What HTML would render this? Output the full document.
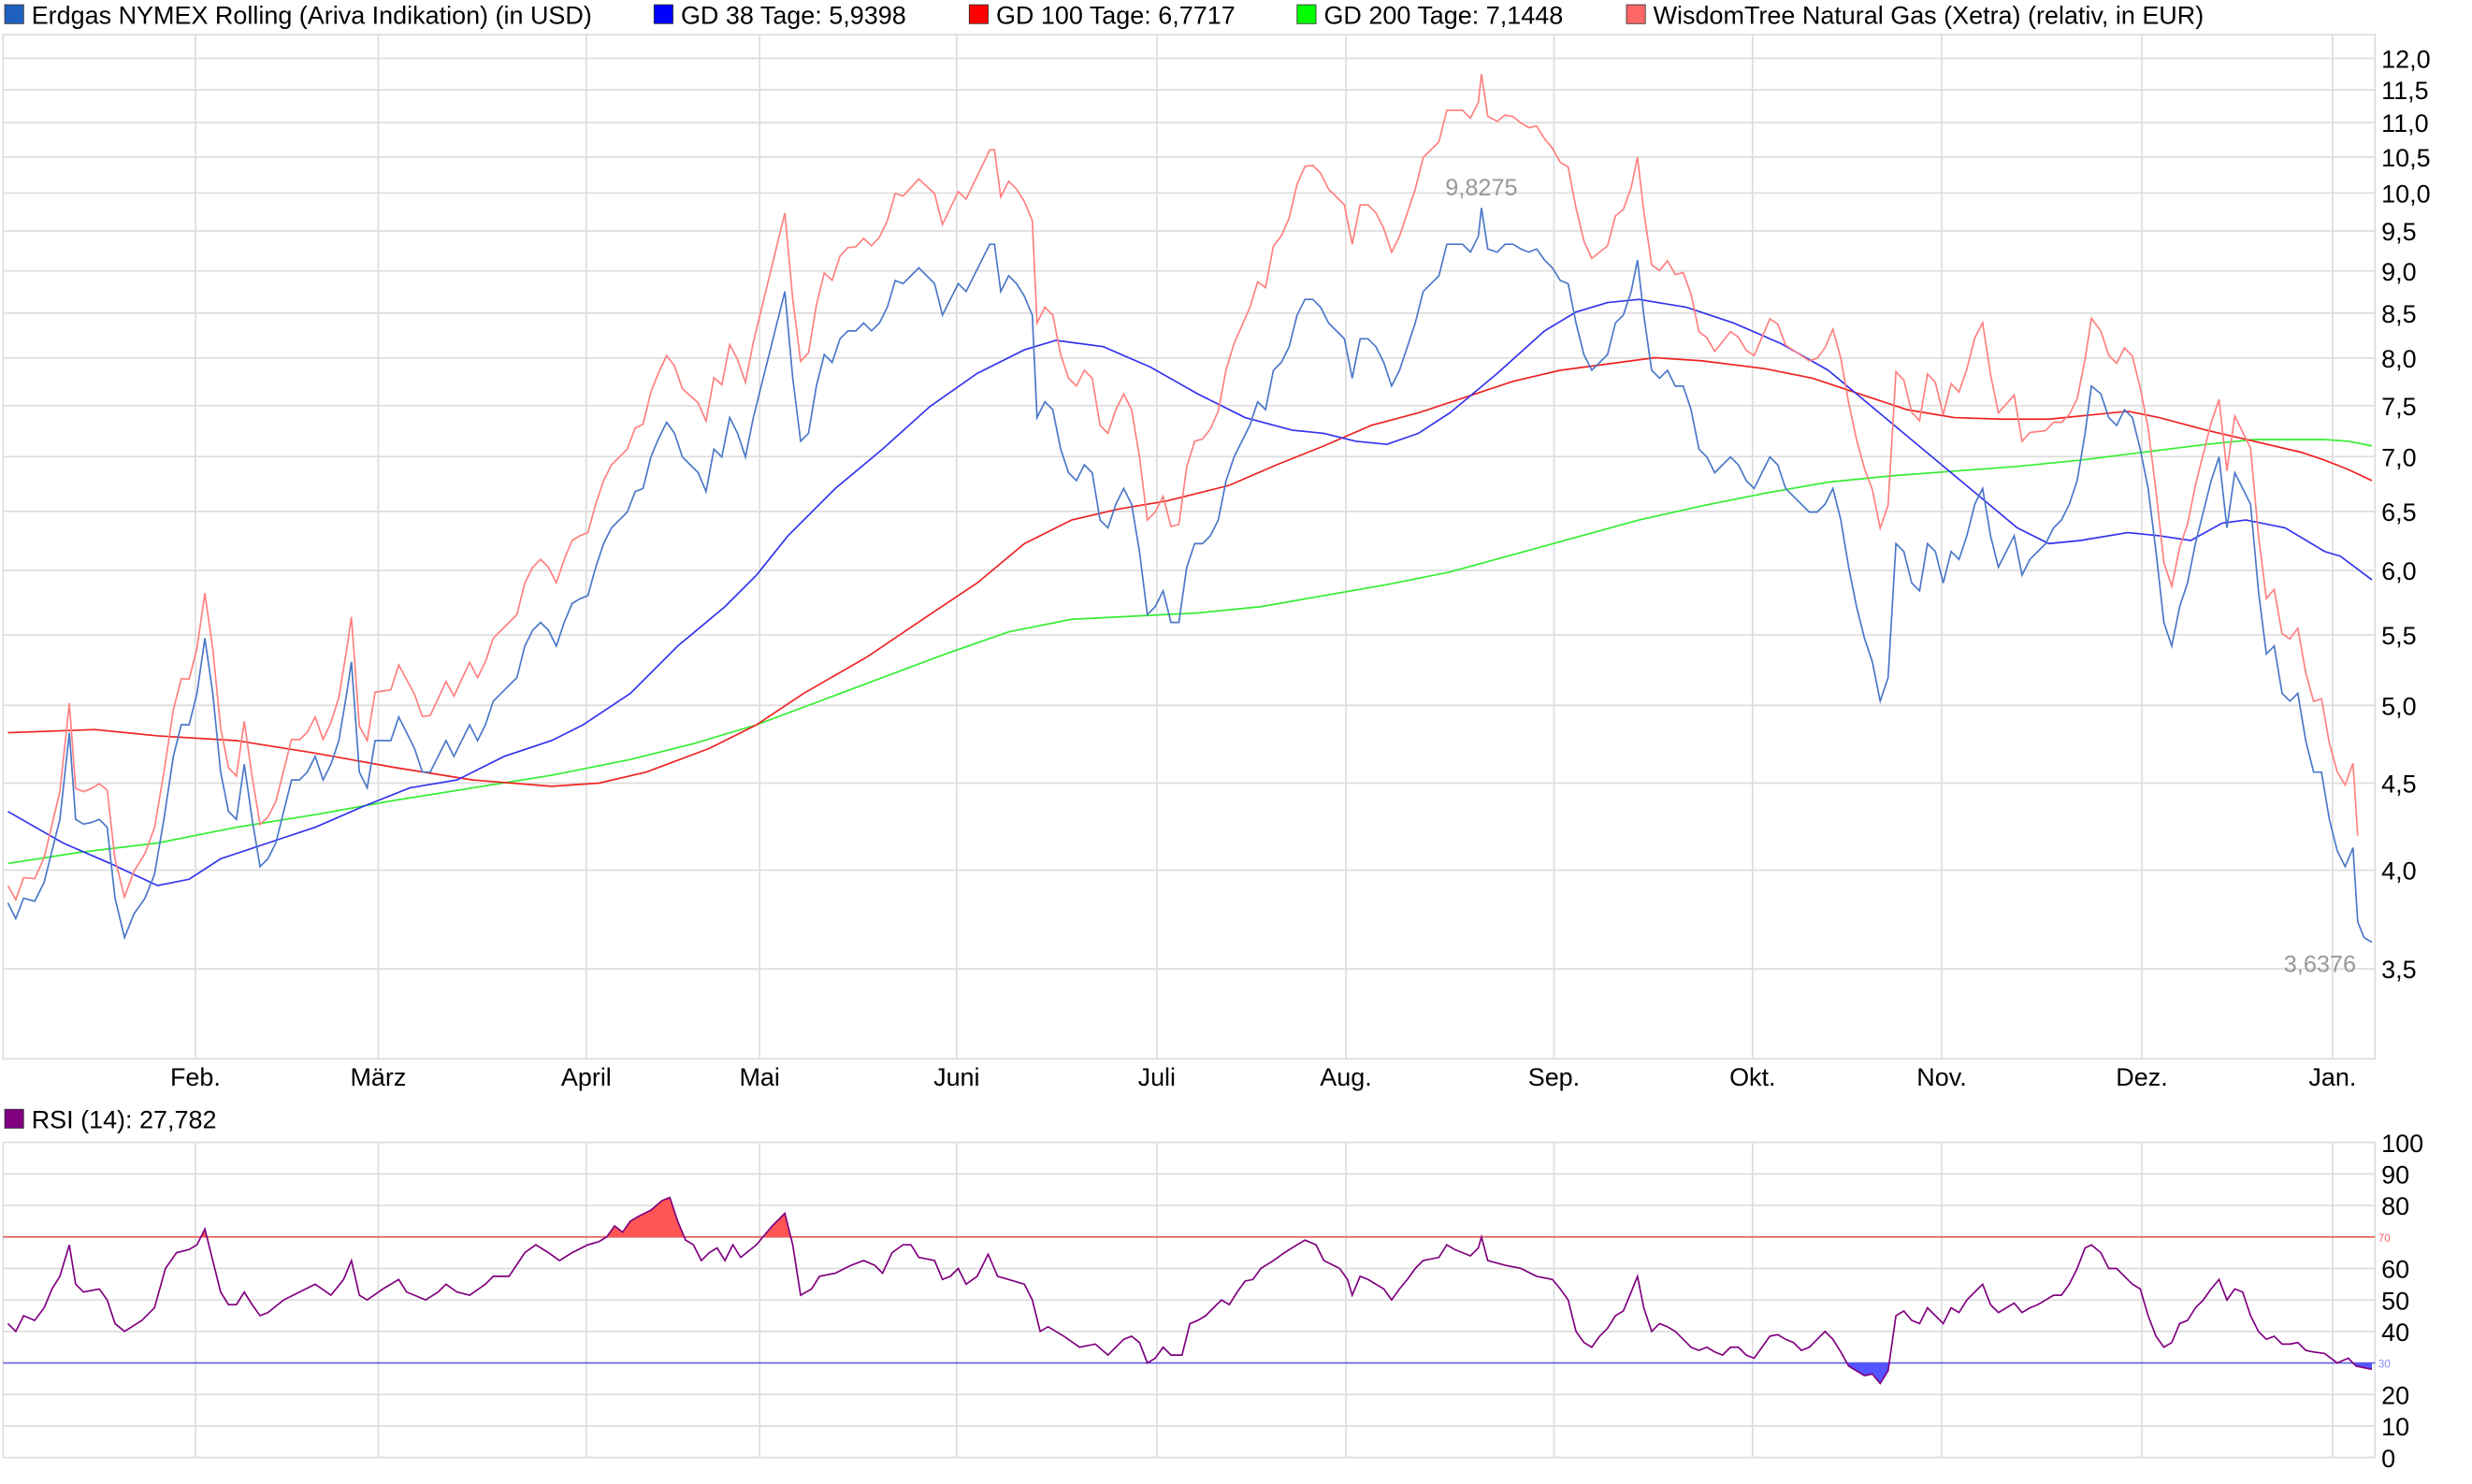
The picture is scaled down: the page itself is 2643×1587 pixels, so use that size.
<!DOCTYPE html>
<html><head><meta charset="utf-8"><style>
html,body{margin:0;padding:0;background:#fff;}
svg{display:block;font-family:"Liberation Sans",Arial,sans-serif;}
</style></head><body>
<svg id="s" width="2643" height="1587" viewBox="0 0 1568.5 941.8" xmlns="http://www.w3.org/2000/svg">
<defs>
<clipPath id="above"><rect x="0" y="700" width="1510" height="85"/></clipPath>
<clipPath id="below"><rect x="0" y="865" width="1510" height="60"/></clipPath>
</defs>
<rect x="0" y="0" width="1568.5" height="941.8" fill="#fff"/>
<g id="grid" stroke="#dddddd" stroke-width="1" fill="none"></g>
<g font-size="16" fill="#000">
<rect x="3" y="3" width="12" height="12" fill="#1f5fbf" stroke="#333" stroke-width="0.5"/><text x="20" y="15">Erdgas NYMEX Rolling (Ariva Indikation) (in USD)</text>
<rect x="415" y="3" width="12" height="12" fill="#0000ff" stroke="#333" stroke-width="0.5"/><text x="432" y="15">GD 38 Tage: 5,9398</text>
<rect x="615" y="3" width="12" height="12" fill="#ff0000" stroke="#333" stroke-width="0.5"/><text x="632" y="15">GD 100 Tage: 6,7717</text>
<rect x="823" y="3" width="12" height="12" fill="#00ff00" stroke="#333" stroke-width="0.5"/><text x="840" y="15">GD 200 Tage: 7,1448</text>
<rect x="1032" y="3" width="12" height="12" fill="#ff6666" stroke="#333" stroke-width="0.5"/><text x="1049" y="15">WisdomTree Natural Gas (Xetra) (relativ, in EUR)</text>
<rect x="3" y="704" width="12" height="12" fill="#800080" stroke="#333" stroke-width="0.5"/><text x="20" y="716">RSI (14): 27,782</text>
</g>
<g id="labels" font-size="16" fill="#000"></g>
<g id="series"></g>
<text x="940" y="124" font-size="15" fill="#999" text-anchor="middle">9,8275</text>
<text x="1472" y="617" font-size="15" fill="#999" text-anchor="middle">3,6376</text>
</svg>
<script>
var NS="http://www.w3.org/2000/svg";
function el(parent,tag,attrs,txt){var e=document.createElementNS(NS,tag);for(var k in attrs)e.setAttribute(k,attrs[k]);if(txt!==undefined)e.textContent=txt;document.getElementById(parent).appendChild(e);return e;}
function Y(v){return 37+(Math.log(12)-Math.log(v))*469;}
el('grid','rect',{x:2,y:22,width:1505,height:650});
var ticks=[12,11.5,11,10.5,10,9.5,9,8.5,8,7.5,7,6.5,6,5.5,5,4.5,4,3.5];
ticks.forEach(function(v){var y=Y(v);el('grid','line',{x1:2,x2:1507,y1:y,y2:y});el('labels','text',{x:1511,y:y+6},v.toFixed(1).replace('.',','));});
var months=[[124,'Feb.'],[240,'März'],[372,'April'],[482,'Mai'],[607,'Juni'],[734,'Juli'],[854,'Aug.'],[986,'Sep.'],[1112,'Okt.'],[1232,'Nov.'],[1359,'Dez.'],[1480,'Jan.']];
months.forEach(function(m){el('grid','line',{x1:m[0],x2:m[0],y1:22,y2:672});el('grid','line',{x1:m[0],x2:m[0],y1:725,y2:925});el('labels','text',{x:m[0],y:689,'text-anchor':'middle'},m[1]);});
el('grid','rect',{x:2,y:725,width:1505,height:200});
for(var v=0;v<=100;v+=10){var y=925-2*v;if(v!==70&&v!==30)el('grid','line',{x1:2,x2:1507,y1:y,y2:y});if(v!==70&&v!==30)el('labels','text',{x:1511,y:y+6},''+v);}
el('labels','text',{x:1509,y:788,'font-size':7,fill:'#f66'},'70');
el('labels','text',{x:1509,y:868,'font-size':7,fill:'#88f'},'30');

var blue=[[5,573],[10,583],[15,570],[22,572],[28,560],[33,540],[38,520],[44,465],[48,520],[53,523],[58,522],[63,520],[68,525],[73,570],[79,595],[85,580],[92,570],[98,555],[104,520],[110,480],[115,460],[120,460],[125,440],[130,405],[135,440],[140,490],[145,515],[150,520],[155,485],[160,520],[165,550],[170,545],[175,535],[180,515],[185,495],[190,495],[195,490],[200,480],[205,495],[210,485],[215,470],[220,440],[223,420],[228,490],[233,500],[238,470],[243,470],[248,470],[253,455],[258,465],[263,475],[268,490],[273,490],[278,480],[283,470],[288,480],[293,470],[298,460],[303,470],[308,460],[313,445],[318,440],[323,435],[328,430],[333,410],[338,400],[343,395],[348,400],[353,410],[358,395],[363,383],[368,380],[373,378],[378,360],[383,345],[388,335],[393,330],[398,325],[403,312],[408,310],[413,290],[418,278],[423,268],[428,275],[433,290],[438,295],[443,300],[448,312],[453,285],[458,290],[463,265],[468,275],[473,290],[478,265],[483,245],[488,225],[493,205],[498,185],[503,240],[508,280],[513,275],[518,245],[523,225],[528,230],[533,215],[538,210],[543,210],[548,205],[553,210],[558,205],[563,195],[568,178],[573,180],[578,175],[583,170],[588,175],[593,180],[598,200],[603,190],[608,180],[613,185],[618,175],[623,165],[628,155],[631,155],[635,185],[640,175],[645,180],[650,188],[655,200],[658,265],[663,255],[668,260],[673,285],[678,300],[683,305],[688,295],[693,300],[698,330],[703,335],[708,320],[713,310],[718,320],[723,350],[728,390],[733,385],[738,375],[743,395],[748,395],[753,360],[758,345],[763,345],[768,340],[773,330],[778,305],[783,290],[788,280],[793,270],[798,255],[803,260],[808,235],[813,230],[818,220],[823,200],[828,190],[833,190],[838,195],[843,205],[848,210],[853,215],[858,240],[863,215],[868,215],[873,220],[878,230],[883,245],[888,235],[893,220],[898,205],[903,185],[908,180],[913,175],[918,155],[923,155],[928,155],[933,160],[938,150],[940,132],[944,158],[950,160],[955,155],[960,155],[965,158],[970,160],[975,158],[980,165],[985,170],[990,178],[995,180],[1000,205],[1005,225],[1010,235],[1015,230],[1020,225],[1025,205],[1030,200],[1035,185],[1039,165],[1043,200],[1048,235],[1053,240],[1058,235],[1063,245],[1068,245],[1073,260],[1078,285],[1083,290],[1088,300],[1093,295],[1098,290],[1103,295],[1108,305],[1113,310],[1118,300],[1123,290],[1128,295],[1133,310],[1138,315],[1143,320],[1148,325],[1153,325],[1158,320],[1163,310],[1168,330],[1173,360],[1178,385],[1183,405],[1188,420],[1193,445],[1198,430],[1203,345],[1208,350],[1213,370],[1218,375],[1223,345],[1228,350],[1233,370],[1238,350],[1243,355],[1248,340],[1253,320],[1258,310],[1263,340],[1268,360],[1273,350],[1278,340],[1283,365],[1288,355],[1293,350],[1298,345],[1303,335],[1308,330],[1313,320],[1318,305],[1323,275],[1327,245],[1333,250],[1338,265],[1343,270],[1348,260],[1353,265],[1358,285],[1363,310],[1368,350],[1373,395],[1378,410],[1383,385],[1388,370],[1393,345],[1398,325],[1403,305],[1408,290],[1413,335],[1418,300],[1423,310],[1428,320],[1433,375],[1438,415],[1443,410],[1448,440],[1453,445],[1458,440],[1463,470],[1468,490],[1473,490],[1478,520],[1483,540],[1488,550],[1493,538],[1496,585],[1500,595],[1505,598]];
var off=[[0,-10],[100,-30],[200,-25],[300,-40],[400,-40],[500,-50],[630,-60],[740,-60],[830,-85],[940,-85],[1040,-65],[1100,-80],[1190,-110],[1260,-105],[1300,-70],[1330,-40],[1440,-35],[1497,-55]];
function interp(t,x){for(var i=0;i<t.length-1;i++){if(x<=t[i+1][0]){var f=(x-t[i][0])/(t[i+1][0]-t[i][0]);return t[i][1]+f*(t[i+1][1]-t[i][1]);}}return t[t.length-1][1];}
var red=blue.filter(function(p){return p[0]<=1497;}).map(function(p){return [p[0],p[1]+interp(off,p[0])];});
var g38=[[5,515],[40,535],[70,548],[100,562],[120,558],[140,545],[170,535],[200,525],[230,512],[260,500],[290,495],[320,480],[350,470],[370,460],[400,440],[430,410],[460,385],[480,365],[500,340],[530,310],[560,285],[590,258],[620,237],[650,222],[670,216],[700,220],[730,233],[760,250],[790,265],[820,273],[840,275],[860,280],[880,282],[900,275],[920,262],[950,237],[980,210],[1000,198],[1020,192],[1040,190],[1070,195],[1100,205],[1130,218],[1160,235],[1190,260],[1220,285],[1250,310],[1280,335],[1300,345],[1320,343],[1350,338],[1370,340],[1390,343],[1410,332],[1425,330],[1450,335],[1475,350],[1485,353],[1505,368]];
var g100=[[5,465],[60,463],[100,467],[150,470],[200,478],[250,487],[300,495],[350,499],[380,497],[410,490],[450,475],[480,460],[510,440],[550,417],[590,390],[620,370],[650,345],[680,330],[710,323],[740,318],[780,308],[810,295],[840,283],[870,270],[900,262],[930,252],[960,242],[990,235],[1020,231],[1050,227],[1080,229],[1120,234],[1150,240],[1180,250],[1210,260],[1240,265],[1270,266],[1300,266],[1330,263],[1350,261],[1370,265],[1400,273],[1430,280],[1460,287],[1475,292],[1490,298],[1505,305]];
var g200=[[5,548],[50,541],[100,535],[150,525],[200,517],[250,508],[300,500],[350,492],[400,482],[440,472],[480,460],[520,445],[560,430],[600,415],[640,401],[680,393],[720,391],[760,389],[800,385],[840,378],[880,371],[920,363],[960,352],[1000,341],[1040,330],[1080,321],[1120,313],[1160,306],[1200,302],[1240,299],[1280,296],[1320,292],[1360,287],[1400,282],[1430,279],[1475,279],[1490,280],[1505,283]];
var rsi=[[5,840],[10,845],[15,835],[22,838],[28,830],[33,818],[38,810],[44,790],[48,815],[53,820],[63,818],[68,825],[73,840],[79,845],[90,838],[98,830],[105,805],[112,795],[120,793],[125,790],[130,780],[135,800],[140,820],[145,828],[150,828],[155,820],[160,828],[165,835],[170,833],[180,825],[190,820],[200,815],[210,822],[218,812],[223,800],[228,822],[233,825],[243,818],[253,812],[258,820],[263,822],[270,825],[278,820],[283,815],[290,820],[298,822],[308,815],[313,810],[323,810],[333,795],[340,790],[348,795],[355,800],[363,795],[373,790],[380,788],[385,785],[390,778],[395,782],[400,775],[405,772],[413,768],[420,762],[425,760],[430,775],[435,787],[440,790],[445,800],[450,795],[455,792],[460,800],[465,790],[470,798],[480,790],[490,778],[498,770],[503,790],[508,822],[515,818],[520,810],[530,808],[540,803],[548,800],[555,803],[560,808],[566,795],[573,790],[578,790],[583,798],[593,800],[598,812],[603,810],[608,805],[613,815],[620,810],[627,796],[633,810],[640,812],[650,815],[655,825],[660,845],[665,842],[675,848],[685,855],[695,853],[703,860],[713,850],[718,848],[723,852],[728,865],[733,862],[738,855],[743,860],[750,860],[755,840],[760,838],[765,835],[770,830],[775,825],[780,828],[785,820],[790,813],[795,812],[800,805],[808,800],[815,795],[823,790],[828,787],[835,790],[840,800],[850,805],[855,812],[858,822],[863,810],[868,812],[878,818],[883,825],[888,818],[893,812],[898,805],[903,800],[913,798],[918,790],[923,793],[933,797],[938,792],[940,785],[944,800],[955,803],[965,805],[975,810],[985,812],[990,818],[995,825],[1000,845],[1005,852],[1010,855],[1015,848],[1020,843],[1025,835],[1030,832],[1035,820],[1039,810],[1043,830],[1048,845],[1053,840],[1058,842],[1063,845],[1068,850],[1073,855],[1078,857],[1083,855],[1088,858],[1093,860],[1098,855],[1103,855],[1108,860],[1113,862],[1118,855],[1123,848],[1128,847],[1133,850],[1138,852],[1143,857],[1148,855],[1153,850],[1158,845],[1163,850],[1168,858],[1173,867],[1178,870],[1183,873],[1188,872],[1193,878],[1198,870],[1203,835],[1208,832],[1213,838],[1218,840],[1223,830],[1228,835],[1233,840],[1238,830],[1243,833],[1248,825],[1253,820],[1258,815],[1263,828],[1268,833],[1273,830],[1278,827],[1283,833],[1288,830],[1293,828],[1298,825],[1303,822],[1308,822],[1313,815],[1318,805],[1323,792],[1327,790],[1333,795],[1338,805],[1343,805],[1348,810],[1353,815],[1358,818],[1363,835],[1368,848],[1373,855],[1378,852],[1383,840],[1388,838],[1393,830],[1398,825],[1403,818],[1408,812],[1413,825],[1418,818],[1423,820],[1428,835],[1433,845],[1438,850],[1443,848],[1448,853],[1453,853],[1458,852],[1463,857],[1468,858],[1475,859],[1483,865],[1490,862],[1495,867],[1500,868],[1505,869]];
function pts(a){return a.map(function(p){return p[0]+','+p[1];}).join(' ');}
el('series','line',{x1:2,x2:1507,y1:785,y2:785,stroke:'#e06060','stroke-width':1});
el('series','line',{x1:2,x2:1507,y1:865,y2:865,stroke:'#6060e0','stroke-width':1});
el('series','polygon',{points:'5,785 '+pts(rsi)+' 1505,785',fill:'#ff5555','clip-path':'url(#above)'});
el('series','polygon',{points:'5,865 '+pts(rsi)+' 1505,865',fill:'#5555ff','clip-path':'url(#below)'});
el('series','polyline',{points:pts(rsi),fill:'none',stroke:'#800080','stroke-width':1});
el('series','polyline',{points:pts(g200),fill:'none',stroke:'#33ee33','stroke-width':1});
el('series','polyline',{points:pts(g100),fill:'none',stroke:'#ee2222','stroke-width':1});
el('series','polyline',{points:pts(g38),fill:'none',stroke:'#3333ee','stroke-width':1});
el('series','polyline',{points:pts(red),fill:'none',stroke:'#ff8080','stroke-width':1});
el('series','polyline',{points:pts(blue),fill:'none',stroke:'#4a78c8','stroke-width':1});
</script>
</body></html>
